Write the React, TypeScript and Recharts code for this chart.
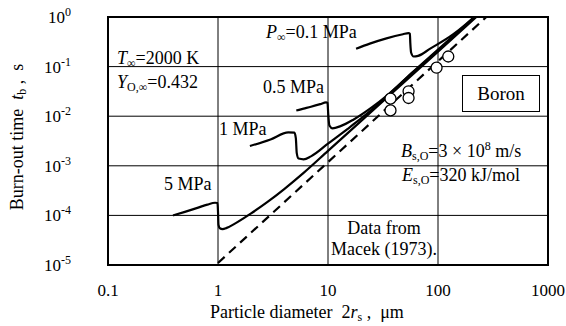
import { ComposedChart, Line, Scatter, XAxis, YAxis, CartesianGrid, ReferenceArea } from "recharts"

// burn-out time curves, [diameter µm, time s]
const curve01MPa = [[18, 0.23], [24, 0.29], [34, 0.37], [48, 0.45], [54, 0.475], [55.5, 0.46], [56, 0.3], [57, 0.19], [60, 0.16], [66, 0.165], [85, 0.23], [138, 0.45], [180, 0.72], [213, 1]]
const curve05MPa = [[5.15, 0.013], [6, 0.0142], [7, 0.0155], [8.5, 0.0175], [9.6, 0.019], [9.9, 0.0185], [10.05, 0.011], [10.3, 6.5e-3], [11, 5.7e-3], [13, 6.3e-3], [17, 8.5e-3], [25, 0.015], [35, 0.027], [60, 0.08], [100, 0.22], [215, 1]]
const curve1MPa = [[1.95, 2.5e-3], [3, 3.4e-3], [4.36, 4.7e-3], [4.95, 4.65e-3], [5.1, 3.6e-3], [5.2, 1.8e-3], [5.4, 1.4e-3], [6, 1.35e-3], [7, 1.55e-3], [10, 2.8e-3], [15, 5.5e-3], [20, 9e-3], [30, 0.019], [50, 0.055], [100, 0.21], [218, 1]]
const curve5MPa = [[0.39, 1e-4], [0.5, 1.18e-4], [0.65, 1.42e-4], [0.8, 1.65e-4], [0.94, 1.8e-4], [0.99, 1.78e-4], [1.0, 1.2e-4], [1.01, 6.5e-5], [1.04, 5.5e-5], [1.1, 5.3e-5], [1.2, 5.6e-5], [1.45, 7e-5], [2, 1.1e-4], [2.8, 1.85e-4], [4, 3.4e-4], [6, 7.2e-4], [10, 2e-3], [30, 0.018], [100, 0.2], [223, 1]]
const diffusionLimit = [[1, 1.1e-5], [275, 1]]

// Macek (1973) measurements
const macekDiam = [37, 37, 54, 54, 97, 124]
const macekTime = [0.0226, 0.0131, 0.0318, 0.0233, 0.095, 0.16]

const xTicks = [0.1, 1, 10, 100, 1000]
const yTicks = [1e-5, 1e-4, 1e-3, 1e-2, 1e-1, 1]

const toPts = (arr: number[][]) => arr.map(([d, t]) => ({ d, t }))
const macek = macekDiam.map((d, i) => ({ d, t: macekTime[i] }))

const serif = '"Liberation Serif", serif'

function XTick({ x, y, payload }: any) {
  return (
    <text x={x} y={y + 23} textAnchor="middle" fontSize={17} style={{ fontFamily: serif }} fill="#000">
      {String(payload.value)}
    </text>
  )
}

function YTick({ x, y, payload }: any) {
  const exp = Math.round(Math.log10(payload.value))
  return (
    <text x={x - 29} y={y + 6} textAnchor="end" fontSize={17} style={{ fontFamily: serif }} fill="#000">
      10<tspan dy={-7} fontSize={12}>{exp}</tspan>
    </text>
  )
}

const note = (left: number, top: number): React.CSSProperties => ({
  position: "absolute", left, top, fontFamily: serif, fontSize: 18, lineHeight: 1, whiteSpace: "nowrap", color: "#000",
})
const sub: React.CSSProperties = { fontSize: 12, verticalAlign: "-3px", lineHeight: 0 }

export default function App() {
  const line = { type: "monotone" as const, dataKey: "t", stroke: "#000", strokeWidth: 2.2, dot: false, isAnimationActive: false }
  return (
    <div style={{ position: "absolute", left: 0, top: 0, width: 566, height: 326, background: "#fff", fontFamily: serif }}>
      <ComposedChart width={566} height={326} margin={{ top: 17, right: 18, bottom: 0, left: 0 }}>
        <CartesianGrid stroke="#000" strokeWidth={1} />
        <XAxis dataKey="d" type="number" scale="log" domain={[0.1, 1000]} ticks={xTicks} allowDataOverflow
          height={61} tick={<XTick />} tickLine={false} axisLine={false} />
        <YAxis type="number" scale="log" domain={[1e-5, 1]} ticks={yTicks} allowDataOverflow
          width={108} tick={<YTick />} tickLine={false} axisLine={false} />
        <Line data={toPts(diffusionLimit)} {...line} type="linear" strokeDasharray="9 6" />
        <Line data={toPts(curve5MPa)} {...line} />
        <Line data={toPts(curve1MPa)} {...line} />
        <Line data={toPts(curve05MPa)} {...line} />
        <Line data={toPts(curve01MPa)} {...line} />
        <Scatter data={macek} dataKey="t" fill="#fff" stroke="#000" strokeWidth={1.3} isAnimationActive={false}
          shape={(p: any) => <circle cx={p.cx} cy={p.cy} r={5.5} fill="#fff" stroke="#000" strokeWidth={1.3} />} />
        <ReferenceArea x1={0.1} x2={1000} y1={1e-5} y2={1} fill="none" stroke="#000" strokeWidth={2} ifOverflow="visible" />
      </ComposedChart>

      <div style={note(266, 23)}><i>P</i><span style={sub}>∞</span>=0.1 MPa</div>
      <div style={note(117, 49)}><i>T</i><span style={sub}>∞</span>=2000 K</div>
      <div style={note(117, 73)}><i>Y</i><span style={sub}>O,∞</span>=0.432</div>
      <div style={note(263, 78)}>0.5 MPa</div>
      <div style={note(219, 120)}>1 MPa</div>
      <div style={note(164, 175)}>5 MPa</div>
      <div style={{ position: "absolute", left: 462, top: 75, width: 76, height: 35, border: "1.5px solid #000", background: "#fff",
        fontFamily: serif, fontSize: 19, display: "flex", alignItems: "center", justifyContent: "center" }}>Boron</div>
      <div style={note(401, 142)}><i>B</i><span style={sub}>s,O</span>=3 × 10<sup style={{ fontSize: 12, lineHeight: 0 }}>8</sup> m/s</div>
      <div style={note(402, 166)}><i>E</i><span style={sub}>s,O</span>=320 kJ/mol</div>
      <div style={{ ...note(331, 218), textAlign: "center", lineHeight: "21px" }}>Data from<br />Macek (1973).</div>

      <div style={{ ...note(210, 303), fontSize: 18 }}>Particle diameter&nbsp;&nbsp;2<i>r</i><span style={sub}>s</span> ,&nbsp;&nbsp;μm</div>
      <div style={{ position: "absolute", left: 17, top: 137, transform: "translate(-50%, -50%) rotate(-90deg)",
        fontFamily: serif, fontSize: 18, whiteSpace: "nowrap" }}>Burn-out time&nbsp;&nbsp;<i>t</i><span style={sub}>b</span> ,&nbsp;&nbsp;s</div>
    </div>
  )
}
